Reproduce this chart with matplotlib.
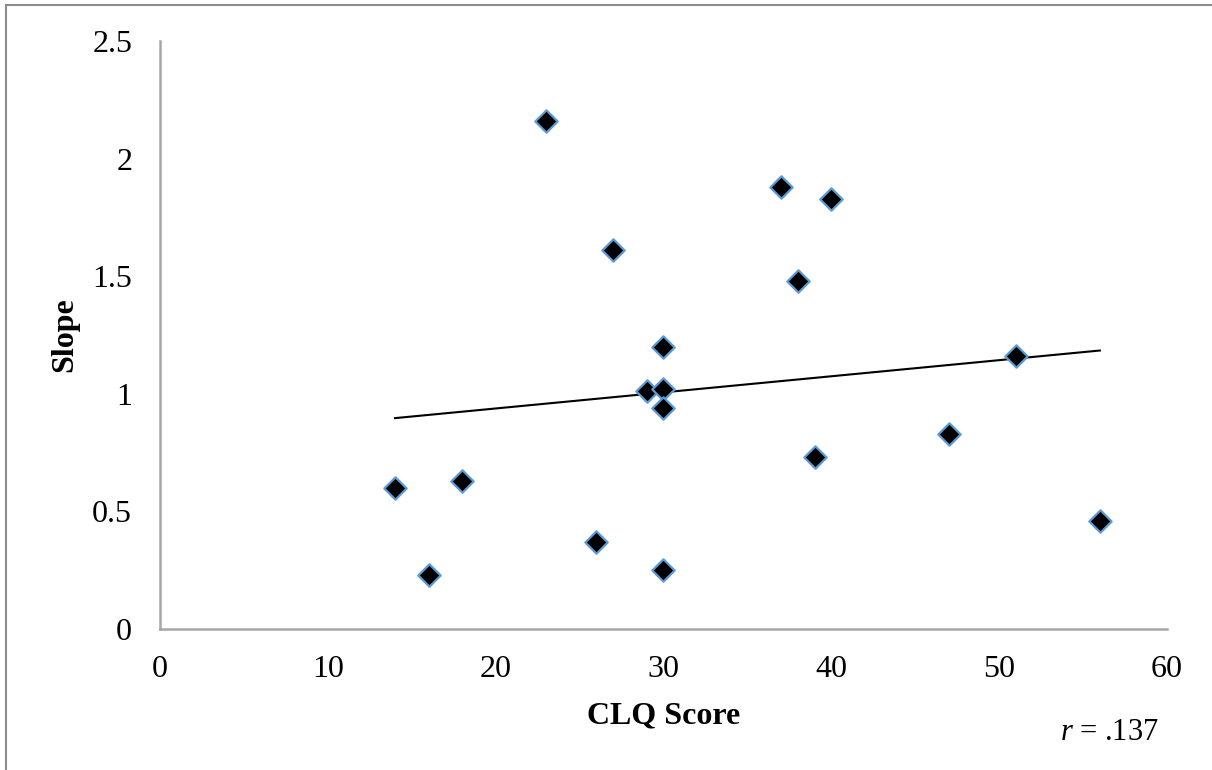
import matplotlib
matplotlib.use('Agg')
import matplotlib.pyplot as plt
from matplotlib.lines import Line2D
import numpy as np

clq_score = np.array([14, 16, 18, 23, 26, 27, 29, 30, 30, 30, 30, 37, 38, 39, 40, 47, 51, 56])
slope = np.array([0.60, 0.23, 0.63, 2.16, 0.37, 1.61, 1.01, 1.20, 1.02, 0.94, 0.25,
                  1.88, 1.48, 0.73, 1.83, 0.83, 1.16, 0.46])

x_ticks = [0, 10, 20, 30, 40, 50, 60]
y_ticks = [0, 0.5, 1, 1.5, 2, 2.5]
y_tick_labels = ['0', '0.5', '1', '1.5', '2', '2.5']

plt.rcParams['font.family'] = 'Liberation Serif'
plt.rcParams['mathtext.fontset'] = 'custom'
plt.rcParams['mathtext.rm'] = 'Liberation Serif'
plt.rcParams['mathtext.it'] = 'Liberation Serif:italic'

fig = plt.figure(figsize=(12.12, 7.7), dpi=100)
ax = fig.add_axes([160 / 1212, 1 - 629 / 770, 1007 / 1212, 588 / 770])

ax.scatter(clq_score, slope, marker='D', s=130, color='black',
           edgecolors='#5b9bd5', linewidths=1.6, zorder=3)

# linear trendline over the data range
coef = np.polyfit(clq_score, slope, 1)
trend = np.poly1d(coef)
xs = np.array([clq_score.min(), clq_score.max()])
ax.plot(xs, trend(xs), color='black', linewidth=1.5, zorder=2)

ax.set_xlim(0, 60)
ax.set_ylim(0, 2.5)
ax.set_xticks(x_ticks)
ax.set_yticks(y_ticks)
ax.set_yticklabels(y_tick_labels)
ax.tick_params(length=0, labelsize=23)
ax.tick_params(axis='x', pad=19)
ax.tick_params(axis='y', pad=20)

for side in ['top', 'right']:
    ax.spines[side].set_visible(False)
for side in ['left', 'bottom']:
    ax.spines[side].set_color('#a6a6a6')
    ax.spines[side].set_linewidth(1.8)

ax.set_xlabel('CLQ Score', fontsize=23, fontweight='bold')
ax.set_ylabel('Slope', fontsize=23, fontweight='bold')
ax.xaxis.label.set_va('center')
ax.yaxis.label.set_va('center')
ax.xaxis.set_label_coords(0.5, (629 - 716) / 588)
ax.yaxis.set_label_coords((65 - 160) / 1007, (629 - 335) / 588)

fig.text(1060 / 1212, 1 - 732 / 770, r'$r$ = .137', fontsize=22, va='center', ha='left')

# outer frame (top and left edges only)
fig.add_artist(Line2D([6 / 1212, 1], [1 - 5 / 770, 1 - 5 / 770], color='#8c8c8c', linewidth=1.5))
fig.add_artist(Line2D([6 / 1212, 6 / 1212], [0, 1 - 5 / 770], color='#8c8c8c', linewidth=1.5))

fig.savefig('out.png', dpi=100)
